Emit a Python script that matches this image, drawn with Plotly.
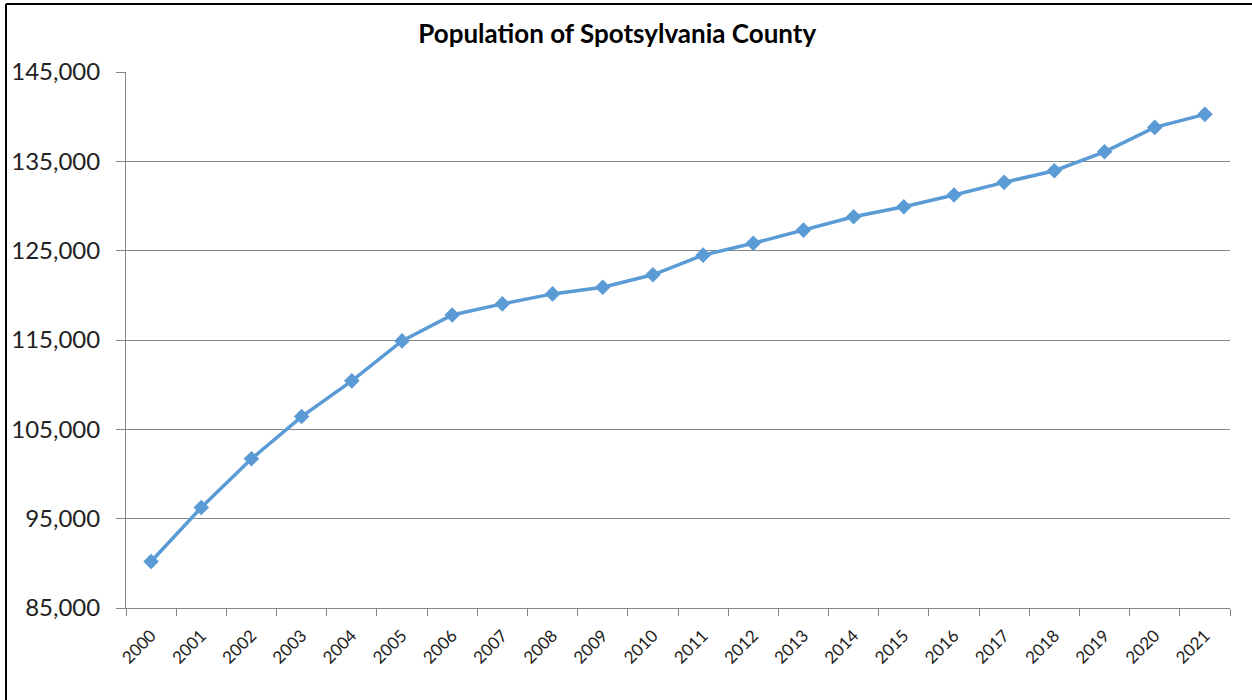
import plotly.graph_objects as go

years = [str(y) for y in range(2000, 2022)]
population = [90200, 96250, 101700, 106430, 110430, 114900, 117800, 119040, 120160, 120900,
              122300, 124500, 125830, 127300, 128800, 129920, 131230, 132650, 133950, 136070,
              138800, 140260]
y_ticks = [85000, 95000, 105000, 115000, 125000, 135000, 145000]
y_tick_text = ["85,000", "95,000", "105,000", "115,000", "125,000", "135,000", "145,000"]

FONT = "Lato"

fig = go.Figure()
fig.add_trace(go.Scatter(
    x=years, y=population, mode="lines+markers",
    line=dict(color="#5B9BD5", width=3.5),
    marker=dict(symbol="diamond", size=12, color="#5B9BD5"),
    showlegend=False, hoverinfo="x+y",
))

fig.update_layout(
    width=1252, height=700,
    margin=dict(l=126, r=22, t=72, b=92),
    paper_bgcolor="white", plot_bgcolor="white",
    title=dict(text="<b>Population of Spotsylvania County</b>", x=0.493, xanchor="center",
               y=1 - 34 / 700, yanchor="middle",
               font=dict(family=FONT, size=26, color="black")),
    xaxis=dict(type="category", range=[-0.5, 21.5], tickson="boundaries",
               ticks="outside", ticklen=7, tickcolor="#868686",
               showline=True, linecolor="#868686", linewidth=1,
               showgrid=False, tickangle=-45, ticklabelstandoff=10,
               tickfont=dict(family=FONT, size=17, color="#222222")),
    yaxis=dict(range=[85000, 145000], tickvals=y_ticks, ticktext=y_tick_text,
               ticks="outside", ticklen=9, tickcolor="#868686",
               showline=True, linecolor="#868686", linewidth=1,
               showgrid=True, gridcolor="#868686", gridwidth=1,
               zeroline=False, ticklabelstandoff=11,
               tickfont=dict(family=FONT, size=24, color="#222222")),
    shapes=[
        dict(type="line", xref="paper", yref="paper",
             x0=-120 / 1104, x1=1 + 22 / 1104, y0=1 + 68 / 536, y1=1 + 68 / 536,
             line=dict(color="black", width=2)),
        dict(type="line", xref="paper", yref="paper",
             x0=-120 / 1104, x1=-120 / 1104, y0=1 + 68 / 536, y1=-92 / 536,
             line=dict(color="black", width=2)),
    ],
)

fig.write_html("out.html", config={"displayModeBar": False},
               post_script="document.body.style.margin='0';document.body.style.overflow='hidden';")
